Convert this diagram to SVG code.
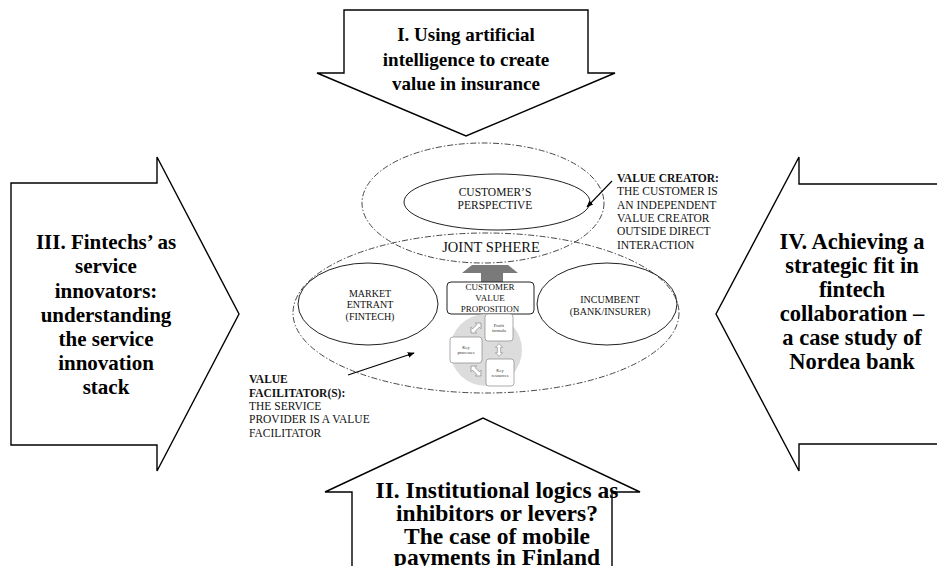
<svg xmlns="http://www.w3.org/2000/svg" width="937" height="566" viewBox="0 0 937 566">
  <defs>
    <style>
      .big { fill: #fff; stroke: #000; stroke-width: 1.4; stroke-linejoin: miter; }
      .bt { font-family: "Liberation Serif", "Times New Roman", serif; font-weight: bold; fill: #000; text-anchor: middle; }
      .sphere { fill: none; stroke: #333; stroke-width: 0.9; stroke-dasharray: 6 2 1.5 2; }
      .ell { fill: none; stroke: #222; stroke-width: 1; }
      .st { font-family: "Liberation Serif", "Times New Roman", serif; fill: #111; text-anchor: middle; }
      .lt { font-family: "Liberation Serif", "Times New Roman", serif; fill: #111; font-size: 11.5px; }
      .mini { fill: #fff; stroke: #888; stroke-width: 0.7; }
      .mt { font-family: "Liberation Serif", "Times New Roman", serif; fill: #333; font-size: 4.5px; text-anchor: middle; }
      .dbl { fill: #fff; stroke: #777; stroke-width: 0.6; }
      .ptr { fill: none; stroke: #000; stroke-width: 1.1; marker-end: url(#head); }
    </style>
    <marker id="head" viewBox="0 0 10 10" refX="9" refY="5" markerWidth="7" markerHeight="7" markerUnits="userSpaceOnUse" orient="auto">
      <path d="M0,1 L10,5 L0,9 Z" fill="#000"/>
    </marker>
    <path id="dblArrow" d="M-7,0 L-3,-4 L-3,-1.8 L3,-1.8 L3,-4 L7,0 L3,4 L3,1.8 L-3,1.8 L-3,4 Z"/>
  </defs>

  <rect width="937" height="566" fill="#fff"/>

  <!-- I: top arrow pointing down -->
  <g id="arrow-top">
    <path class="big" d="M344,10 L588,10 L588,73 L615,73 L466,136 L317,73 L344,73 Z"/>
    <text class="bt" font-size="19"><tspan x="466" y="41">I. Using artificial</tspan><tspan x="466" y="65.5">intelligence to create</tspan><tspan x="466" y="90">value in insurance</tspan></text>
  </g>

  <!-- III: left arrow pointing right -->
  <g id="arrow-left">
    <path class="big" d="M11,183 L157,183 L157,157 L239,314 L157,471 L157,445 L11,445 Z"/>
    <text class="bt" font-size="21"><tspan x="106" y="249">III. Fintechs’ as</tspan><tspan x="106" y="273">service</tspan><tspan x="106" y="297.5">innovators:</tspan><tspan x="106" y="321.5">understanding</tspan><tspan x="106" y="345.5">the service</tspan><tspan x="106" y="370">innovation</tspan><tspan x="106" y="394">stack</tspan></text>
  </g>

  <!-- IV: right arrow pointing left -->
  <g id="arrow-right">
    <path class="big" d="M945,184 L799,184 L799,157 L716,314 L799,471 L799,444 L945,444"/>
    <text class="bt" font-size="22.5"><tspan x="852" y="249">IV. Achieving a</tspan><tspan x="852" y="273">strategic fit in</tspan><tspan x="852" y="297">fintech</tspan><tspan x="852" y="321">collaboration –</tspan><tspan x="852" y="345">a case study of</tspan><tspan x="852" y="369">Nordea bank</tspan></text>
  </g>

  <!-- II: bottom arrow pointing up -->
  <g id="arrow-bottom">
    <path class="big" d="M352,575 L352,492 L325,492 L483,418 L640,492 L612,492 L612,575"/>
    <text class="bt" font-size="23.5"><tspan x="497" y="498">II. Institutional logics as</tspan><tspan x="497" y="521">inhibitors or levers?</tspan><tspan x="497" y="543.5">The case of mobile</tspan><tspan x="497" y="565">payments in Finland</tspan></text>
  </g>

  <!-- customer sphere -->
  <g id="customer-sphere">
    <ellipse class="sphere" cx="483" cy="203" rx="121" ry="60"/>
  </g>

  <!-- joint sphere -->
  <g id="joint-sphere">
    <ellipse class="sphere" cx="486" cy="313" rx="193" ry="80"/>
    <text class="st" font-size="14.5" x="491" y="252">JOINT SPHERE</text>
  </g>

  <g id="customer-perspective">
    <ellipse class="ell" cx="497" cy="202" rx="93" ry="28"/>
    <text class="st" font-size="11.5"><tspan x="495" y="196">CUSTOMER’S</tspan><tspan x="495" y="209">PERSPECTIVE</tspan></text>
  </g>

  <g id="market-entrant">
    <ellipse class="ell" cx="368" cy="304" rx="70" ry="41"/>
    <text class="st" font-size="10"><tspan x="370" y="297">MARKET</tspan><tspan x="370" y="308">ENTRANT</tspan><tspan x="370" y="320">(FINTECH)</tspan></text>
  </g>

  <g id="incumbent">
    <ellipse class="ell" cx="607" cy="304" rx="70" ry="41"/>
    <text class="st" font-size="10"><tspan x="610" y="303">INCUMBENT</tspan><tspan x="610" y="315">(BANK/INSURER)</tspan></text>
  </g>

  <!-- customer value proposition with business model circle -->
  <g id="value-proposition">
    <path d="M481,282 L481,273 L462,273 L472,265 L508,265 L518,273 L503,273 L503,282 Z" fill="#7a7a7a"/>
    <rect x="447" y="282" width="87" height="32" rx="4" fill="#fff" stroke="#222" stroke-width="1"/>
    <text class="st" font-size="9"><tspan x="490" y="290">CUSTOMER</tspan><tspan x="490" y="301">VALUE</tspan><tspan x="490" y="312">PROPOSITION</tspan></text>
  </g>

  <g id="business-model">
    <circle cx="486" cy="350" r="36" fill="#dcdcdc"/>
    <rect class="mini" x="485" y="314" width="28" height="27" rx="3"/>
    <text class="mt"><tspan x="499" y="327">Profit</tspan><tspan x="499" y="332">formula</tspan></text>
    <rect class="mini" x="450" y="337" width="32" height="26" rx="3"/>
    <text class="mt"><tspan x="466" y="349">Key</tspan><tspan x="466" y="354">processes</tspan></text>
    <rect class="mini" x="486" y="359" width="28" height="27" rx="3"/>
    <text class="mt"><tspan x="500" y="372">Key</tspan><tspan x="500" y="377">resources</tspan></text>
    <use href="#dblArrow" class="dbl" transform="translate(476,328) rotate(-45)"/>
    <use href="#dblArrow" class="dbl" transform="translate(499,350) rotate(90) scale(0.9)"/>
    <use href="#dblArrow" class="dbl" transform="translate(476,371) rotate(45)"/>
  </g>

  <!-- annotations -->
  <g id="value-creator">
    <text class="lt"><tspan x="617" y="182" font-weight="bold">VALUE CREATOR:</tspan><tspan x="617" y="195">THE CUSTOMER IS</tspan><tspan x="617" y="208.5">AN INDEPENDENT</tspan><tspan x="617" y="222">VALUE CREATOR</tspan><tspan x="617" y="235">OUTSIDE DIRECT</tspan><tspan x="617" y="248.5">INTERACTION</tspan></text>
  </g>

  <g id="value-facilitator">
    <text class="lt"><tspan x="249" y="383" font-weight="bold">VALUE</tspan><tspan x="249" y="396.5" font-weight="bold">FACILITATOR(S):</tspan><tspan x="249" y="410">THE SERVICE</tspan><tspan x="249" y="423">PROVIDER IS A VALUE</tspan><tspan x="249" y="436.5">FACILITATOR</tspan></text>
  </g>

  <g id="connectors">
    <line class="ptr" x1="612" y1="181" x2="587" y2="207"/>
    <line class="ptr" x1="348" y1="375" x2="414" y2="353"/>
  </g>
</svg>
